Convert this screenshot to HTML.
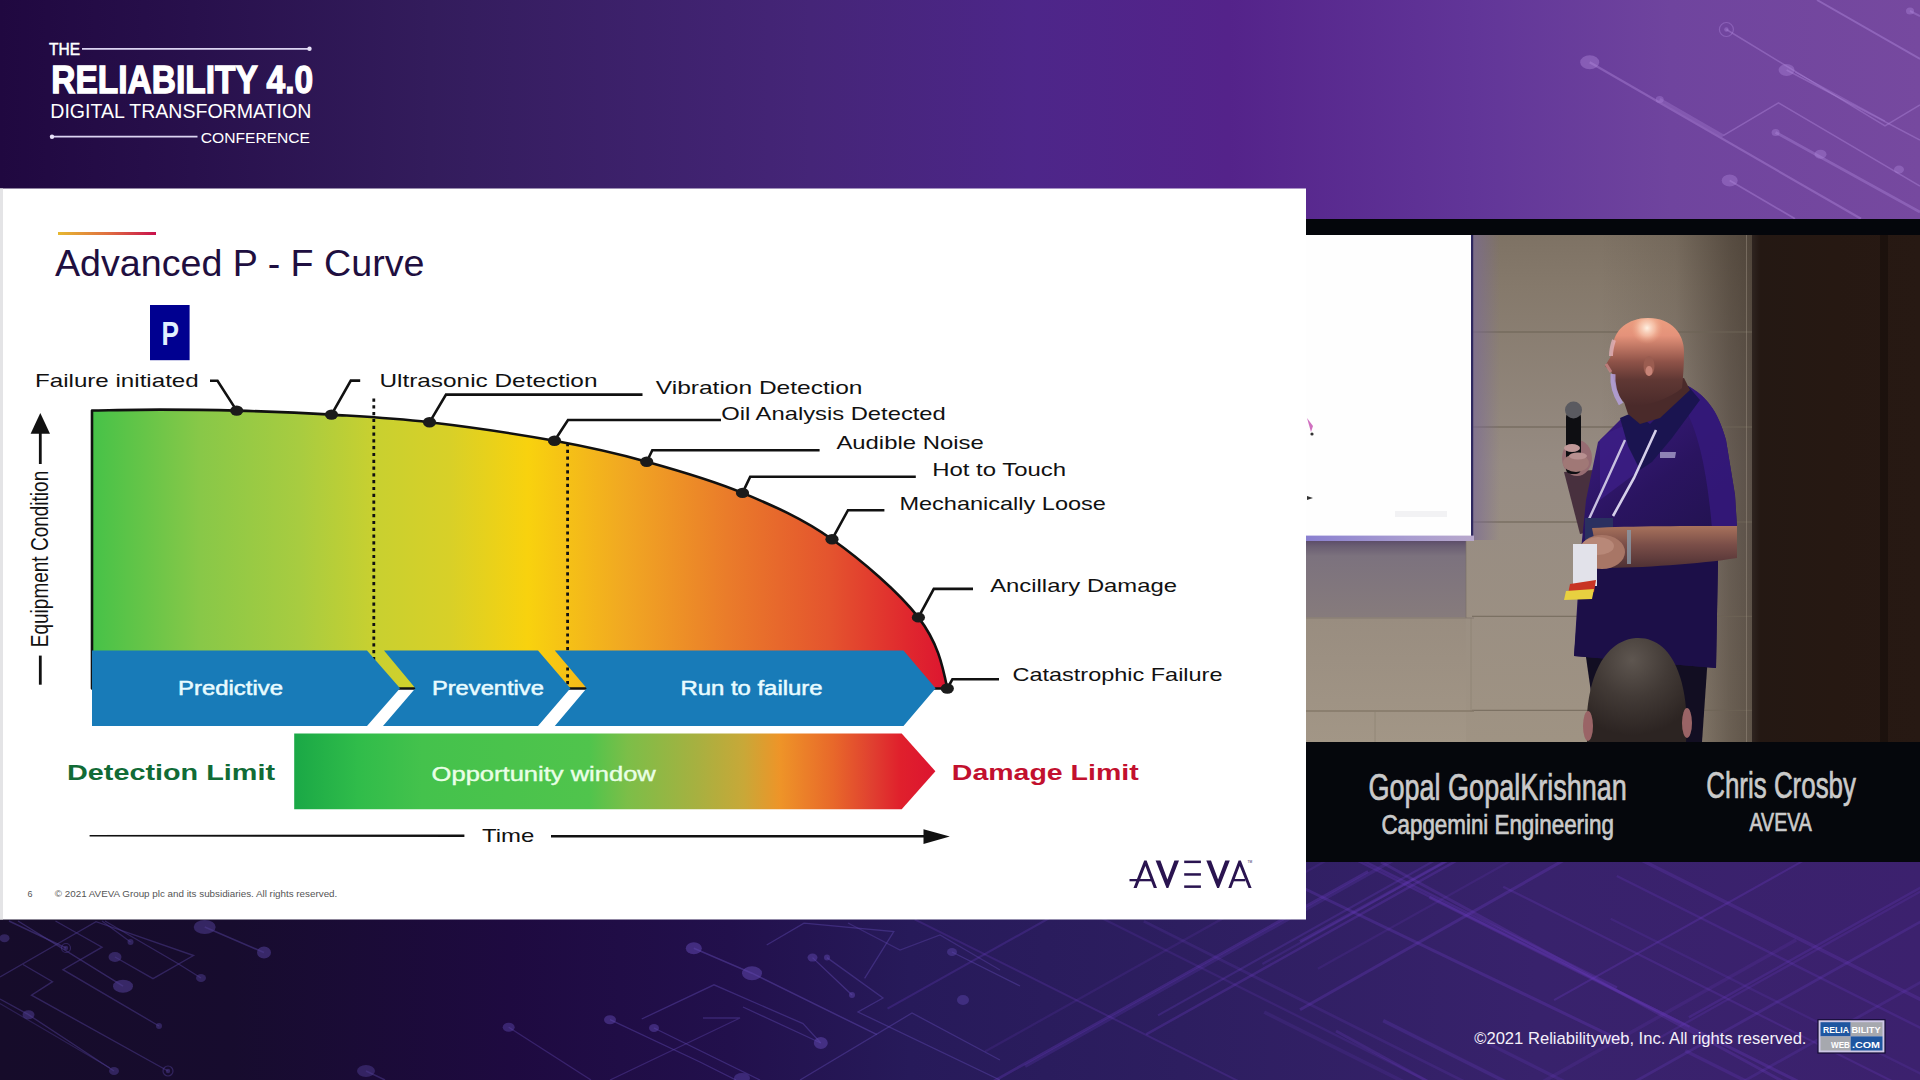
<!DOCTYPE html>
<html><head><meta charset="utf-8"><title>Advanced P-F Curve</title>
<style>
html,body{margin:0;padding:0;background:#1d0b3d;}
body{width:1920px;height:1080px;overflow:hidden;font-family:"Liberation Sans", sans-serif;}
svg{display:block;font-family:"Liberation Sans", sans-serif;}
</style></head>
<body>
<svg width="1920" height="1080" viewBox="0 0 1920 1080">
<defs>
<linearGradient id="bgTop" x1="0" y1="0" x2="1920" y2="0" gradientUnits="userSpaceOnUse">
  <stop offset="0" stop-color="#200840"/>
  <stop offset="0.1" stop-color="#28104c"/>
  <stop offset="0.224" stop-color="#331c5c"/>
  <stop offset="0.422" stop-color="#452578"/>
  <stop offset="0.536" stop-color="#4d2689"/>
  <stop offset="0.64" stop-color="#54238a"/>
  <stop offset="0.766" stop-color="#613598"/>
  <stop offset="0.87" stop-color="#6f449e"/>
  <stop offset="1" stop-color="#76499f"/>
</linearGradient>
<linearGradient id="bgBot" x1="0" y1="0" x2="1920" y2="0" gradientUnits="userSpaceOnUse">
  <stop offset="0" stop-color="#160c2a"/>
  <stop offset="0.12" stop-color="#170c2e"/>
  <stop offset="0.265" stop-color="#1e0a40"/>
  <stop offset="0.38" stop-color="#22104c"/>
  <stop offset="0.474" stop-color="#271a5a"/>
  <stop offset="0.615" stop-color="#2d1e60"/>
  <stop offset="0.8" stop-color="#38226c"/>
  <stop offset="1" stop-color="#3c216e"/>
</linearGradient>
<linearGradient id="curveG" x1="92" y1="0" x2="950" y2="0" gradientUnits="userSpaceOnUse">
  <stop offset="0" stop-color="#46c248"/>
  <stop offset="0.126" stop-color="#88c848"/>
  <stop offset="0.242" stop-color="#a8cc40"/>
  <stop offset="0.327" stop-color="#c8d030"/>
  <stop offset="0.417" stop-color="#d8d028"/>
  <stop offset="0.508" stop-color="#f8d20e"/>
  <stop offset="0.62" stop-color="#f1a822"/>
  <stop offset="0.74" stop-color="#ea7c2a"/>
  <stop offset="0.86" stop-color="#e4542e"/>
  <stop offset="0.95" stop-color="#e0282e"/>
  <stop offset="1" stop-color="#dc1430"/>
</linearGradient>
<linearGradient id="oppG" x1="294" y1="0" x2="936" y2="0" gradientUnits="userSpaceOnUse">
  <stop offset="0" stop-color="#1aa846"/>
  <stop offset="0.1" stop-color="#30bc4a"/>
  <stop offset="0.2" stop-color="#44c24c"/>
  <stop offset="0.46" stop-color="#50c44c"/>
  <stop offset="0.52" stop-color="#7cbe48"/>
  <stop offset="0.63" stop-color="#a8b040"/>
  <stop offset="0.70" stop-color="#c8a838"/>
  <stop offset="0.757" stop-color="#ee9428"/>
  <stop offset="0.84" stop-color="#e8682a"/>
  <stop offset="0.90" stop-color="#e04030"/>
  <stop offset="0.944" stop-color="#e0202c"/>
  <stop offset="1" stop-color="#dc1430"/>
</linearGradient>
<linearGradient id="titleBar" x1="58" y1="0" x2="156" y2="0" gradientUnits="userSpaceOnUse">
  <stop offset="0" stop-color="#e6b830"/>
  <stop offset="0.5" stop-color="#e07040"/>
  <stop offset="1" stop-color="#c8104c"/>
</linearGradient>
</defs>
<rect x="0" y="0" width="1920" height="540" fill="url(#bgTop)"/>
<rect x="0" y="540" width="1920" height="540" fill="url(#bgBot)"/>
<polyline points="1589.7,62.3 1861.0,218.8" fill="none" stroke="#b088dc" stroke-width="2.2" stroke-opacity="0.42" stroke-linejoin="miter"/>
<polyline points="1659.7,99.5 1723.0,136.0" fill="none" stroke="#b088dc" stroke-width="3.2" stroke-opacity="0.30" stroke-linejoin="miter"/>
<ellipse cx="1589.7" cy="62.3" rx="9.5" ry="7.0" fill="#b088dc" fill-opacity="0.42"/>
<ellipse cx="1659.7" cy="99.5" rx="4.0" ry="3.5" fill="#b088dc" fill-opacity="0.35"/>
<polyline points="1723.2,135.6 1778.5,102.8 1920.0,186.0" fill="none" stroke="#b088dc" stroke-width="1.5" stroke-opacity="0.42" stroke-linejoin="miter"/>
<circle cx="1726.4" cy="29.5" r="7.0" fill="none" stroke="#b088dc" stroke-opacity="0.40" stroke-width="1.2"/>
<ellipse cx="1726.4" cy="29.5" rx="2.2" ry="2.2" fill="#b088dc" fill-opacity="0.40"/>
<polyline points="1726.4,29.5 1885.0,125.8 1920.0,105.0" fill="none" stroke="#b088dc" stroke-width="1.5" stroke-opacity="0.42" stroke-linejoin="miter"/>
<ellipse cx="1786.6" cy="70.0" rx="8.0" ry="6.0" fill="#b088dc" fill-opacity="0.38"/>
<polyline points="1786.6,70.0 1920.0,140.0" fill="none" stroke="#b088dc" stroke-width="1.5" stroke-opacity="0.42" stroke-linejoin="miter"/>
<polyline points="1795.0,72.0 1885.0,121.0" fill="none" stroke="#b088dc" stroke-width="1.2" stroke-opacity="0.35" stroke-linejoin="miter"/>
<polyline points="1817.0,0.0 1920.0,59.0" fill="none" stroke="#b088dc" stroke-width="2.0" stroke-opacity="0.45" stroke-linejoin="miter"/>
<ellipse cx="1910.0" cy="11.0" rx="4.0" ry="3.5" fill="#b088dc" fill-opacity="0.40"/>
<polyline points="1910.0,11.0 1920.0,16.0" fill="none" stroke="#b088dc" stroke-width="2.0" stroke-opacity="0.40" stroke-linejoin="miter"/>
<ellipse cx="1775.6" cy="132.4" rx="4.0" ry="3.5" fill="#b088dc" fill-opacity="0.38"/>
<polyline points="1775.6,132.4 1920.0,212.0" fill="none" stroke="#b088dc" stroke-width="2.8" stroke-opacity="0.38" stroke-linejoin="miter"/>
<ellipse cx="1820.5" cy="154.2" rx="6.0" ry="4.5" fill="#b088dc" fill-opacity="0.38"/>
<ellipse cx="1899.0" cy="169.5" rx="5.0" ry="4.0" fill="#b088dc" fill-opacity="0.38"/>
<ellipse cx="1729.7" cy="180.5" rx="8.0" ry="6.0" fill="#b088dc" fill-opacity="0.38"/>
<polyline points="1729.7,180.5 1795.0,218.8" fill="none" stroke="#b088dc" stroke-width="1.8" stroke-opacity="0.42" stroke-linejoin="miter"/>
<polyline points="9.0,921.0 66.0,948.0" fill="none" stroke="#4e3c90" stroke-width="1.4" stroke-opacity="0.55" stroke-linejoin="miter"/>
<circle cx="66.0" cy="948.0" r="4.5" fill="none" stroke="#4e3c90" stroke-opacity="0.50" stroke-width="1.2"/>
<ellipse cx="66.0" cy="948.0" rx="2.2" ry="2.2" fill="#4e3c90" fill-opacity="0.50"/>
<polyline points="18.0,921.0 123.0,986.2" fill="none" stroke="#4e3c90" stroke-width="1.4" stroke-opacity="0.55" stroke-linejoin="miter"/>
<ellipse cx="123.0" cy="986.2" rx="10.0" ry="6.5" fill="#4e3c90" fill-opacity="0.60"/>
<polyline points="55.5,921.0 102.0,947.2 63.0,969.7 159.0,1026.0" fill="none" stroke="#4e3c90" stroke-width="1.4" stroke-opacity="0.50" stroke-linejoin="miter"/>
<ellipse cx="159.0" cy="1026.0" rx="3.0" ry="3.0" fill="#4e3c90" fill-opacity="0.50"/>
<polyline points="0.0,977.0 96.0,921.7 193.5,955.5 153.0,978.7 115.0,957.0" fill="none" stroke="#4e3c90" stroke-width="1.4" stroke-opacity="0.50" stroke-linejoin="miter"/>
<ellipse cx="115.0" cy="957.0" rx="6.5" ry="5.0" fill="#4e3c90" fill-opacity="0.55"/>
<polyline points="102.0,921.0 130.5,942.0" fill="none" stroke="#4e3c90" stroke-width="1.3" stroke-opacity="0.50" stroke-linejoin="miter"/>
<ellipse cx="130.5" cy="942.0" rx="3.0" ry="3.0" fill="#4e3c90" fill-opacity="0.50"/>
<polyline points="105.0,921.0 177.0,963.0 201.0,978.0" fill="none" stroke="#4e3c90" stroke-width="1.3" stroke-opacity="0.50" stroke-linejoin="miter"/>
<ellipse cx="201.0" cy="978.0" rx="5.0" ry="4.0" fill="#4e3c90" fill-opacity="0.50"/>
<polyline points="23.0,964.5 52.5,981.7 31.5,995.2 168.0,1071.0" fill="none" stroke="#4e3c90" stroke-width="1.4" stroke-opacity="0.50" stroke-linejoin="miter"/>
<circle cx="168.0" cy="1071.0" r="5.0" fill="none" stroke="#4e3c90" stroke-opacity="0.50" stroke-width="1.2"/>
<ellipse cx="168.0" cy="1071.0" rx="2.2" ry="2.2" fill="#4e3c90" fill-opacity="0.50"/>
<polyline points="0.0,999.0 28.5,1014.7 114.0,1071.0" fill="none" stroke="#4e3c90" stroke-width="1.4" stroke-opacity="0.50" stroke-linejoin="miter"/>
<ellipse cx="28.5" cy="1014.7" rx="6.0" ry="4.5" fill="#4e3c90" fill-opacity="0.55"/>
<ellipse cx="114.0" cy="1071.0" rx="5.0" ry="4.0" fill="#4e3c90" fill-opacity="0.50"/>
<polyline points="0.0,1003.5 110.0,1068.0" fill="none" stroke="#4e3c90" stroke-width="1.2" stroke-opacity="0.40" stroke-linejoin="miter"/>
<ellipse cx="4.5" cy="938.2" rx="5.0" ry="4.0" fill="#4e3c90" fill-opacity="0.50"/>
<ellipse cx="204.7" cy="927.0" rx="11.0" ry="7.0" fill="#4e3c90" fill-opacity="0.55"/>
<polyline points="204.7,927.0 264.0,952.5" fill="none" stroke="#4e3c90" stroke-width="1.6" stroke-opacity="0.55" stroke-linejoin="miter"/>
<ellipse cx="264.0" cy="952.5" rx="7.0" ry="6.0" fill="#4e3c90" fill-opacity="0.60"/>
<ellipse cx="366.0" cy="1071.0" rx="9.0" ry="6.0" fill="#4e3c90" fill-opacity="0.50"/>
<polyline points="366.0,1071.0 385.0,1080.0" fill="none" stroke="#4e3c90" stroke-width="1.5" stroke-opacity="0.50" stroke-linejoin="miter"/>
<ellipse cx="693.8" cy="948.2" rx="8.0" ry="6.0" fill="#5e46ac" fill-opacity="0.55"/>
<polyline points="693.8,948.2 752.0,973.2 877.0,1034.7" fill="none" stroke="#5e46ac" stroke-width="1.5" stroke-opacity="0.50" stroke-linejoin="miter"/>
<ellipse cx="752.0" cy="973.2" rx="10.0" ry="7.0" fill="#5e46ac" fill-opacity="0.55"/>
<ellipse cx="812.5" cy="957.6" rx="5.0" ry="4.0" fill="#5e46ac" fill-opacity="0.50"/>
<ellipse cx="827.0" cy="957.6" rx="3.0" ry="3.0" fill="#5e46ac" fill-opacity="0.50"/>
<polyline points="812.5,957.6 852.0,995.0" fill="none" stroke="#5e46ac" stroke-width="1.3" stroke-opacity="0.50" stroke-linejoin="miter"/>
<ellipse cx="852.0" cy="995.0" rx="3.0" ry="3.0" fill="#5e46ac" fill-opacity="0.50"/>
<polyline points="827.0,957.6 883.0,998.0 858.0,1012.0 1000.0,1080.0" fill="none" stroke="#5e46ac" stroke-width="1.3" stroke-opacity="0.45" stroke-linejoin="miter"/>
<polyline points="766.7,945.0 804.0,923.2 893.8,931.5 864.6,978.4" fill="none" stroke="#5e46ac" stroke-width="1.3" stroke-opacity="0.45" stroke-linejoin="miter"/>
<polyline points="641.7,1019.0 714.0,984.8 803.0,1023.6 820.8,1043.0" fill="none" stroke="#5e46ac" stroke-width="1.3" stroke-opacity="0.45" stroke-linejoin="miter"/>
<ellipse cx="610.0" cy="1019.7" rx="6.0" ry="4.5" fill="#5e46ac" fill-opacity="0.50"/>
<polyline points="610.0,1019.7 700.0,1062.0 736.0,1080.0" fill="none" stroke="#5e46ac" stroke-width="1.3" stroke-opacity="0.45" stroke-linejoin="miter"/>
<ellipse cx="654.0" cy="1028.0" rx="5.0" ry="4.0" fill="#5e46ac" fill-opacity="0.50"/>
<polyline points="654.0,1028.0 760.0,1080.0" fill="none" stroke="#5e46ac" stroke-width="1.3" stroke-opacity="0.45" stroke-linejoin="miter"/>
<ellipse cx="820.8" cy="1043.0" rx="7.0" ry="6.0" fill="#5e46ac" fill-opacity="0.55"/>
<polyline points="743.0,1007.0 820.8,1043.0" fill="none" stroke="#5e46ac" stroke-width="1.3" stroke-opacity="0.45" stroke-linejoin="miter"/>
<polyline points="703.0,1018.0 740.0,1018.0 610.0,1080.0" fill="none" stroke="#5e46ac" stroke-width="1.3" stroke-opacity="0.40" stroke-linejoin="miter"/>
<polyline points="800.0,1080.0 912.0,1013.0 1000.0,1060.0" fill="none" stroke="#5e46ac" stroke-width="1.3" stroke-opacity="0.45" stroke-linejoin="miter"/>
<ellipse cx="508.7" cy="1027.3" rx="6.0" ry="4.5" fill="#5e46ac" fill-opacity="0.45"/>
<polyline points="508.7,1027.3 591.0,1080.0" fill="none" stroke="#5e46ac" stroke-width="1.3" stroke-opacity="0.40" stroke-linejoin="miter"/>
<ellipse cx="742.0" cy="1078.0" rx="8.0" ry="5.0" fill="#5e46ac" fill-opacity="0.45"/>
<polyline points="848.0,923.0 900.0,950.0 940.0,935.0 1000.0,970.0" fill="none" stroke="#5e46ac" stroke-width="1.3" stroke-opacity="0.40" stroke-linejoin="miter"/>
<ellipse cx="952.0" cy="952.0" rx="5.0" ry="4.0" fill="#5e46ac" fill-opacity="0.45"/>
<polyline points="952.0,952.0 1020.0,986.0" fill="none" stroke="#5e46ac" stroke-width="1.3" stroke-opacity="0.45" stroke-linejoin="miter"/>
<ellipse cx="963.0" cy="1000.0" rx="6.0" ry="5.0" fill="#5e46ac" fill-opacity="0.45"/>
<polyline points="1383.2,1020.6 1991.1,1324.5" fill="none" stroke="#6a3cc0" stroke-width="3.5" stroke-opacity="0.26" stroke-linejoin="miter"/>
<polyline points="1634.8,856.7 2094.3,1086.4" fill="none" stroke="#6a3cc0" stroke-width="3.5" stroke-opacity="0.25" stroke-linejoin="miter"/>
<polyline points="1616.8,876.0 2077.8,1106.6" fill="none" stroke="#6a3cc0" stroke-width="2.4" stroke-opacity="0.24" stroke-linejoin="miter"/>
<polyline points="1342.1,853.0 1689.6,1026.8" fill="none" stroke="#6a3cc0" stroke-width="2.4" stroke-opacity="0.29" stroke-linejoin="miter"/>
<polyline points="1503.2,886.7 2111.9,1191.1" fill="none" stroke="#6a3cc0" stroke-width="2.2" stroke-opacity="0.25" stroke-linejoin="miter"/>
<polyline points="966.4,850.4 1608.6,1171.5" fill="none" stroke="#6a3cc0" stroke-width="2.3" stroke-opacity="0.19" stroke-linejoin="miter"/>
<polyline points="1685.2,1050.7 2065.4,1240.7" fill="none" stroke="#6a3cc0" stroke-width="3.5" stroke-opacity="0.24" stroke-linejoin="miter"/>
<polyline points="1429.4,897.1 2102.8,1233.8" fill="none" stroke="#6a3cc0" stroke-width="3.1" stroke-opacity="0.30" stroke-linejoin="miter"/>
<polyline points="1610.7,918.7 2023.3,1125.0" fill="none" stroke="#6a3cc0" stroke-width="2.3" stroke-opacity="0.18" stroke-linejoin="miter"/>
<polyline points="914.7,919.3 1436.1,1180.0" fill="none" stroke="#6a3cc0" stroke-width="2.0" stroke-opacity="0.25" stroke-linejoin="miter"/>
<polyline points="1143.8,921.3 1762.2,1230.5" fill="none" stroke="#6a3cc0" stroke-width="2.8" stroke-opacity="0.20" stroke-linejoin="miter"/>
<polyline points="1264.2,1012.1 1539.9,1149.9" fill="none" stroke="#6a3cc0" stroke-width="3.6" stroke-opacity="0.16" stroke-linejoin="miter"/>
<polyline points="1489.8,1044.3 1748.0,1173.4" fill="none" stroke="#6a3cc0" stroke-width="3.3" stroke-opacity="0.21" stroke-linejoin="miter"/>
<polyline points="1346.0,852.1 1617.0,987.6" fill="none" stroke="#6a3cc0" stroke-width="2.3" stroke-opacity="0.29" stroke-linejoin="miter"/>
<polyline points="1025.1,1066.3 1693.4,692.0" fill="none" stroke="#6a3cc0" stroke-width="3.5" stroke-opacity="0.21" stroke-linejoin="miter"/>
<polyline points="1158.0,1015.4 1757.0,680.0" fill="none" stroke="#6a3cc0" stroke-width="2.2" stroke-opacity="0.26" stroke-linejoin="miter"/>
<polyline points="1529.7,1089.1 1796.2,939.9" fill="none" stroke="#6a3cc0" stroke-width="3.5" stroke-opacity="0.17" stroke-linejoin="miter"/>
<polyline points="1146.2,1034.4 1809.4,663.0" fill="none" stroke="#6a3cc0" stroke-width="2.5" stroke-opacity="0.29" stroke-linejoin="miter"/>
<polyline points="1317.9,968.7 1710.5,748.9" fill="none" stroke="#6a3cc0" stroke-width="2.3" stroke-opacity="0.17" stroke-linejoin="miter"/>
<polyline points="985.0,1051.6 1683.6,660.4" fill="none" stroke="#6a3cc0" stroke-width="2.3" stroke-opacity="0.17" stroke-linejoin="miter"/>
<polyline points="1688.8,1017.4 2121.5,775.1" fill="none" stroke="#6a3cc0" stroke-width="2.4" stroke-opacity="0.24" stroke-linejoin="miter"/>
<polyline points="1554.1,1000.2 1993.9,754.0" fill="none" stroke="#6a3cc0" stroke-width="2.1" stroke-opacity="0.29" stroke-linejoin="miter"/>
<polyline points="887.5,1008.6 1514.8,657.3" fill="none" stroke="#6a3cc0" stroke-width="2.2" stroke-opacity="0.26" stroke-linejoin="miter"/>
<polyline points="1657.8,1038.7 2262.4,700.1" fill="none" stroke="#6a3cc0" stroke-width="2.2" stroke-opacity="0.22" stroke-linejoin="miter"/>
<polyline points="985.4,1085.8 1368.0,871.5" fill="none" stroke="#6a3cc0" stroke-width="2.7" stroke-opacity="0.30" stroke-linejoin="miter"/>
<polyline points="1575.9,1114.7 2030.0,860.4" fill="none" stroke="#6a3cc0" stroke-width="2.8" stroke-opacity="0.26" stroke-linejoin="miter"/>
<polyline points="1262.4,964.0 1694.1,722.3" fill="none" stroke="#6a3cc0" stroke-width="2.2" stroke-opacity="0.21" stroke-linejoin="miter"/>
<polyline points="1690.2,1111.2 2222.4,813.2" fill="none" stroke="#6a3cc0" stroke-width="2.8" stroke-opacity="0.21" stroke-linejoin="miter"/>
<polyline points="1300.0,941.5 1620.0,765.5" fill="none" stroke="#6a3cc0" stroke-width="3.0" stroke-opacity="0.30" stroke-linejoin="miter"/>
<polyline points="1300.0,1009.8 1620.0,828.4" fill="none" stroke="#6a3cc0" stroke-width="3.0" stroke-opacity="0.30" stroke-linejoin="miter"/>
<polyline points="1300.0,886.5 1620.0,1040.1" fill="none" stroke="#6a3cc0" stroke-width="3.0" stroke-opacity="0.30" stroke-linejoin="miter"/>
<polyline points="1381.0,862.0 1920.0,1156.3" fill="none" stroke="#6a3cc0" stroke-width="3.0" stroke-opacity="0.28" stroke-linejoin="miter"/>
<polyline points="1336.0,1031.0 1450.0,1093.7" fill="none" stroke="#6a3cc0" stroke-width="3.0" stroke-opacity="0.25" stroke-linejoin="miter"/>
<rect x="0" y="188.5" width="1306" height="731" fill="#ffffff"/>
<rect x="0" y="188.5" width="3" height="731" fill="#e4e4e6"/>
<rect x="58" y="232" width="98" height="3" fill="url(#titleBar)"/>
<text x="55.0" y="276.3" font-size="37.0" fill="#1f0f40" font-weight="normal" textLength="369.4" lengthAdjust="spacingAndGlyphs" >Advanced P - F Curve</text>
<rect x="150" y="305" width="39.6" height="55.2" fill="#000090"/>
<text x="161.5" y="344.6" font-size="33.0" fill="#e2f1ff" font-weight="bold" textLength="17.5" lengthAdjust="spacingAndGlyphs" >P</text>
<path d="M92,688.5 L92,410.5 C103.3,410.4 135.9,409.6 160.0,409.6 C184.1,409.6 208.1,409.8 236.7,410.6 C265.3,411.4 299.4,412.7 331.5,414.6 C363.6,416.6 392.3,417.9 429.5,422.3 C466.7,426.7 518.3,434.2 554.5,440.8 C590.7,447.4 615.4,453.0 646.7,461.7 C678.0,470.4 711.6,480.0 742.5,492.9 C773.4,505.8 802.7,518.5 832.0,539.3 C861.3,560.0 899.2,592.5 918.4,617.4 C937.6,642.3 942.5,664.8 947.3,688.5 Z" fill="url(#curveG)" stroke="#111" stroke-width="2.6" stroke-linejoin="round"/>
<line x1="373.8" y1="398.5" x2="373.8" y2="688" stroke="#111" stroke-width="2.8" stroke-dasharray="3.2,3.6"/>
<line x1="567.6" y1="443" x2="567.6" y2="688" stroke="#111" stroke-width="2.8" stroke-dasharray="3.2,3.6"/>
<polygon points="92,650.5 367,650.5 400,688.3 367,726 92,726" fill="#187bb8"/>
<polygon points="384,650.5 538,650.5 570.4,688.3 538,726 383,726 415.4,688.3" fill="#187bb8"/>
<polygon points="554.8,650.5 903.5,650.5 935.6,688.3 903.5,726 554.8,726 586.7,688.3" fill="#187bb8"/>
<polyline points="236.7,410.6 217.5,380.8 210.0,380.8" fill="none" stroke="#111" stroke-width="2.6" stroke-linejoin="miter"/>
<polyline points="331.5,414.6 350.8,380.6 360.2,380.6" fill="none" stroke="#111" stroke-width="2.6" stroke-linejoin="miter"/>
<polyline points="429.5,422.3 446.0,394.6 642.5,394.6" fill="none" stroke="#111" stroke-width="2.6" stroke-linejoin="miter"/>
<polyline points="554.5,440.8 568.0,420.0 721.0,420.0" fill="none" stroke="#111" stroke-width="2.6" stroke-linejoin="miter"/>
<polyline points="646.7,461.7 652.3,450.2 819.6,450.2" fill="none" stroke="#111" stroke-width="2.6" stroke-linejoin="miter"/>
<polyline points="742.5,492.9 750.2,476.7 915.8,476.7" fill="none" stroke="#111" stroke-width="2.6" stroke-linejoin="miter"/>
<polyline points="832.0,539.3 848.0,510.2 884.4,510.2" fill="none" stroke="#111" stroke-width="2.6" stroke-linejoin="miter"/>
<polyline points="918.4,617.4 933.8,588.9 973.0,588.9" fill="none" stroke="#111" stroke-width="2.6" stroke-linejoin="miter"/>
<polyline points="947.3,688.5 952.4,679.3 999.0,679.3" fill="none" stroke="#111" stroke-width="2.6" stroke-linejoin="miter"/>
<ellipse cx="236.7" cy="410.6" rx="6.6" ry="5.2" fill="#1b1b1b"/>
<ellipse cx="331.5" cy="414.6" rx="6.6" ry="5.2" fill="#1b1b1b"/>
<ellipse cx="429.5" cy="422.3" rx="6.6" ry="5.2" fill="#1b1b1b"/>
<ellipse cx="554.5" cy="440.8" rx="6.6" ry="5.2" fill="#1b1b1b"/>
<ellipse cx="646.7" cy="461.7" rx="6.6" ry="5.2" fill="#1b1b1b"/>
<ellipse cx="742.5" cy="492.9" rx="6.6" ry="5.2" fill="#1b1b1b"/>
<ellipse cx="832.0" cy="539.3" rx="6.6" ry="5.2" fill="#1b1b1b"/>
<ellipse cx="918.4" cy="617.4" rx="6.6" ry="5.2" fill="#1b1b1b"/>
<ellipse cx="947.3" cy="688.5" rx="6.6" ry="5.2" fill="#1b1b1b"/>
<text x="35.0" y="386.6" font-size="18.6" fill="#111111" font-weight="normal" textLength="163.7" lengthAdjust="spacingAndGlyphs" >Failure initiated</text>
<text x="379.4" y="386.6" font-size="18.6" fill="#111111" font-weight="normal" textLength="218.1" lengthAdjust="spacingAndGlyphs" >Ultrasonic Detection</text>
<text x="655.8" y="394.2" font-size="18.6" fill="#111111" font-weight="normal" textLength="206.7" lengthAdjust="spacingAndGlyphs" >Vibration Detection</text>
<text x="721.3" y="420.3" font-size="18.6" fill="#111111" font-weight="normal" textLength="224.5" lengthAdjust="spacingAndGlyphs" >Oil Analysis Detected</text>
<text x="836.4" y="448.8" font-size="18.6" fill="#111111" font-weight="normal" textLength="147.3" lengthAdjust="spacingAndGlyphs" >Audible Noise</text>
<text x="932.2" y="475.8" font-size="18.6" fill="#111111" font-weight="normal" textLength="133.9" lengthAdjust="spacingAndGlyphs" >Hot to Touch</text>
<text x="899.4" y="509.7" font-size="18.6" fill="#111111" font-weight="normal" textLength="206.5" lengthAdjust="spacingAndGlyphs" >Mechanically Loose</text>
<text x="990.2" y="591.8" font-size="18.6" fill="#111111" font-weight="normal" textLength="186.8" lengthAdjust="spacingAndGlyphs" >Ancillary Damage</text>
<text x="1012.5" y="680.8" font-size="18.6" fill="#111111" font-weight="normal" textLength="210.0" lengthAdjust="spacingAndGlyphs" >Catastrophic Failure</text>
<text x="178.0" y="694.6" font-size="20.0" fill="#e8fbff" font-weight="normal" textLength="105.0" lengthAdjust="spacingAndGlyphs" stroke="#e8fbff" stroke-width="0.5">Predictive</text>
<text x="431.9" y="694.6" font-size="20.0" fill="#e8fbff" font-weight="normal" textLength="112.0" lengthAdjust="spacingAndGlyphs" stroke="#e8fbff" stroke-width="0.5">Preventive</text>
<text x="680.4" y="694.6" font-size="20.0" fill="#e8fbff" font-weight="normal" textLength="142.2" lengthAdjust="spacingAndGlyphs" stroke="#e8fbff" stroke-width="0.5">Run to failure</text>
<polygon points="294.2,733.5 901.7,733.5 935.4,771.3 901.7,809.2 294.2,809.2" fill="url(#oppG)"/>
<text x="431.6" y="780.8" font-size="20.0" fill="#e9ffe6" font-weight="normal" textLength="224.2" lengthAdjust="spacingAndGlyphs" stroke="#e9ffe6" stroke-width="0.4">Opportunity window</text>
<text x="67.0" y="780.0" font-size="22.2" fill="#116b36" font-weight="bold" textLength="208.0" lengthAdjust="spacingAndGlyphs" >Detection Limit</text>
<text x="951.8" y="780.0" font-size="22.2" fill="#c2102e" font-weight="bold" textLength="186.9" lengthAdjust="spacingAndGlyphs" >Damage Limit</text>
<path d="M89.6,835 L464.4,834.6 L464.4,837 L89.6,836.4 Z" fill="#111"/>
<line x1="551" y1="836.2" x2="926" y2="836.2" stroke="#111" stroke-width="2.4"/>
<polygon points="923.5,829.3 949.8,836.6 923.5,843.9" fill="#111"/>
<text x="482.0" y="842.0" font-size="18.6" fill="#111111" font-weight="normal" textLength="52.3" lengthAdjust="spacingAndGlyphs" >Time</text>
<polygon points="40.3,413 50,433.8 30.6,433.8" fill="#111"/>
<line x1="40.3" y1="433" x2="40.3" y2="464" stroke="#111" stroke-width="2.8"/>
<line x1="40.3" y1="655.6" x2="40.3" y2="684.7" stroke="#111" stroke-width="2.8"/>
<text transform="translate(48.4,647.2) rotate(-90)" x="0" y="0" font-size="23" fill="#111" textLength="176.4" lengthAdjust="spacingAndGlyphs">Equipment Condition</text>
<text x="27.4" y="896.8" font-size="9.5" fill="#555" font-weight="normal" textLength="5.0" lengthAdjust="spacingAndGlyphs" >6</text>
<text x="54.8" y="896.8" font-size="9.5" fill="#555" font-weight="normal" textLength="282.5" lengthAdjust="spacingAndGlyphs" >© 2021 AVEVA Group plc and its subsidiaries. All rights reserved.</text>
<polygon points="1133.5,887.9 1144.2,860.6 1146.6,860.6 1157.0,887.9 1153.8,887.9 1145.4,866.0 1136.7,887.9" fill="#2a1450"/>
<rect x="1129.5" y="879.0" width="22.6" height="2.3" fill="#2a1450"/>
<polygon points="1155.6,860.6 1160.4,860.6 1167.4,879.4 1174.4,860.6 1179.0,860.6 1168.3,887.9 1166.5,887.9" fill="#2a1450"/>
<rect x="1184.2" y="860.6" width="16.7" height="2.5" fill="#2a1450"/>
<rect x="1184.2" y="873.2" width="16.7" height="2.5" fill="#2a1450"/>
<rect x="1184.2" y="885.4" width="16.7" height="2.5" fill="#2a1450"/>
<polygon points="1206.3,860.6 1211.0,860.6 1218.1,879.4 1225.2,860.6 1229.8,860.6 1219.0,887.9 1217.2,887.9" fill="#2a1450"/>
<polygon points="1228.3,887.9 1238.6,860.6 1240.8,860.6 1251.6,887.9 1248.6,887.9 1239.7,866.0 1231.3,887.9" fill="#2a1450"/>
<rect x="1233.7" y="879.0" width="11.7" height="2.3" fill="#2a1450"/>
<text x="1247.5" y="862.5" font-size="3.2" fill="#2a1450">TM</text>
<rect x="1306" y="219" width="614" height="643" fill="#04060b"/>
<defs><linearGradient id="wallG" x1="0" y1="235" x2="0" y2="742" gradientUnits="userSpaceOnUse"><stop offset="0" stop-color="#7e7264"/><stop offset="0.1" stop-color="#85796b"/><stop offset="0.45" stop-color="#968b82"/><stop offset="1" stop-color="#9f9383"/></linearGradient><linearGradient id="wallShade" x1="1600" y1="0" x2="1752" y2="0" gradientUnits="userSpaceOnUse"><stop offset="0" stop-color="#2a2018" stop-opacity="0"/><stop offset="0.5" stop-color="#2a2018" stop-opacity="0.12"/><stop offset="0.85" stop-color="#2a2018" stop-opacity="0.45"/><stop offset="1" stop-color="#2a2018" stop-opacity="0.55"/></linearGradient><linearGradient id="belowG" x1="0" y1="540" x2="0" y2="742" gradientUnits="userSpaceOnUse"><stop offset="0" stop-color="#5a4a68"/><stop offset="0.03" stop-color="#6a5e72"/><stop offset="0.08" stop-color="#7c727e"/><stop offset="0.38" stop-color="#867b7c"/><stop offset="0.385" stop-color="#998d80"/><stop offset="1" stop-color="#a29686"/></linearGradient><linearGradient id="doorG" x1="1752" y1="0" x2="1920" y2="0" gradientUnits="userSpaceOnUse"><stop offset="0" stop-color="#2e2420"/><stop offset="0.05" stop-color="#241813"/><stop offset="0.5" stop-color="#261812"/><stop offset="1" stop-color="#271913"/></linearGradient><radialGradient id="headG" cx="1648" cy="327" r="66" gradientUnits="userSpaceOnUse"><stop offset="0" stop-color="#fff0e2"/><stop offset="0.1" stop-color="#fbc4a4"/><stop offset="0.24" stop-color="#e09880"/><stop offset="0.4" stop-color="#a87264"/><stop offset="0.6" stop-color="#74463e"/><stop offset="0.85" stop-color="#4e2e2a"/><stop offset="1" stop-color="#442826"/></radialGradient><radialGradient id="hairG" cx="1632" cy="660" r="75" gradientUnits="userSpaceOnUse"><stop offset="0" stop-color="#5e5650"/><stop offset="0.5" stop-color="#423a36"/><stop offset="1" stop-color="#2c2422"/></radialGradient><linearGradient id="shirtG" x1="1600" y1="400" x2="1720" y2="560" gradientUnits="userSpaceOnUse"><stop offset="0" stop-color="#3c1c82"/><stop offset="0.5" stop-color="#2a1460"/><stop offset="1" stop-color="#20124c"/></linearGradient><linearGradient id="armG" x1="0" y1="526" x2="0" y2="568" gradientUnits="userSpaceOnUse"><stop offset="0" stop-color="#a8725c"/><stop offset="0.45" stop-color="#7a4e48"/><stop offset="1" stop-color="#4e3034"/></linearGradient></defs>
<rect x="1306" y="235" width="446" height="507" fill="url(#wallG)"/>
<rect x="1306" y="235" width="446" height="507" fill="url(#wallShade)"/>
<line x1="1472" y1="332.0" x2="1752" y2="332.0" stroke="#6e6456" stroke-width="1.3" stroke-opacity="0.7"/>
<line x1="1472" y1="427.0" x2="1752" y2="427.0" stroke="#6e6456" stroke-width="1.3" stroke-opacity="0.7"/>
<line x1="1472" y1="522.0" x2="1752" y2="522.0" stroke="#6e6456" stroke-width="1.3" stroke-opacity="0.7"/>
<line x1="1472" y1="616.3" x2="1752" y2="616.3" stroke="#6e6456" stroke-width="1.3" stroke-opacity="0.7"/>
<line x1="1472" y1="710.4" x2="1752" y2="710.4" stroke="#6e6456" stroke-width="1.3" stroke-opacity="0.7"/>
<line x1="1746.5" y1="235" x2="1746.5" y2="742" stroke="#9a8e80" stroke-width="1" stroke-opacity="0.5"/>
<rect x="1306" y="540" width="160" height="202" fill="url(#belowG)"/>
<line x1="1466" y1="540" x2="1466" y2="618" stroke="#7a6e66" stroke-width="1" stroke-opacity="0.6"/>
<line x1="1471" y1="618" x2="1471" y2="712" stroke="#8a7e70" stroke-width="1" stroke-opacity="0.6"/>
<line x1="1375" y1="712" x2="1375" y2="742" stroke="#8a7e70" stroke-width="1" stroke-opacity="0.6"/>
<line x1="1306" y1="618" x2="1474" y2="618" stroke="#7a7068" stroke-width="1.2" stroke-opacity="0.6"/>
<line x1="1306" y1="711" x2="1474" y2="711" stroke="#857868" stroke-width="1.5"/>
<defs><linearGradient id="edgeG" x1="1472" y1="0" x2="1500" y2="0" gradientUnits="userSpaceOnUse"><stop offset="0" stop-color="#7a6a96" stop-opacity="0.7"/><stop offset="1" stop-color="#7a6a96" stop-opacity="0"/></linearGradient></defs>
<rect x="1472" y="235" width="28" height="305" fill="url(#edgeG)"/>
<rect x="1306" y="235" width="166" height="304" fill="#fefefe"/>
<rect x="1471" y="235" width="2.2" height="301" fill="#2e2860"/>
<defs><linearGradient id="bezG" x1="1306" y1="0" x2="1474" y2="0" gradientUnits="userSpaceOnUse"><stop offset="0" stop-color="#8a80d0"/><stop offset="0.6" stop-color="#a89cd0"/><stop offset="1" stop-color="#b8a8cc"/></linearGradient></defs>
<rect x="1306" y="535.6" width="168" height="5.4" fill="url(#bezG)"/>
<path d="M1307,418 L1311,432 L1313,426 Z" fill="#d070c0"/>
<circle cx="1312" cy="434" r="1.6" fill="#333"/>
<path d="M1307,496 L1313,498 L1307,500 Z" fill="#333"/>
<rect x="1395" y="511" width="52" height="6" fill="#f2f2f4"/>
<rect x="1752" y="235" width="168" height="507" fill="url(#doorG)"/>
<rect x="1880" y="235" width="8" height="507" fill="#1a100c" opacity="0.8"/>
<polygon points="1585,650 1708,655 1702,742 1598,742" fill="#120e22"/>
<path d="M1564,472 L1594,470 L1600,530 L1580,534 Z" fill="#48303e"/>
<path d="M1622,418 L1598,442 L1586,500 L1580,560 L1574,656 L1716,668 L1718,560 L1737,527 L1735,495 L1726,440 C1718,410 1705,395 1688,386 L1662,402 Z" fill="url(#shirtG)"/>
<path d="M1688,386 C1705,395 1718,410 1726,440 L1735,495 L1737,527 L1712,529 C1708,480 1700,430 1680,400 Z" fill="#34187a" opacity="0.9"/>
<path d="M1600,440 C1612,428 1630,420 1650,430 L1640,470 L1600,500 Z" fill="#3c1e86" opacity="0.8"/>
<path d="M1582,560 L1718,560 L1716,668 L1574,656 Z" fill="#1c0f48"/>
<path d="M1620,418 L1634,412 L1650,424 L1688,386 L1700,400 L1672,438 L1652,462 L1640,470 L1628,446 Z" fill="#1a1450"/>
<path d="M1656,430 L1634,478 L1613,516" stroke="#d6d0ea" stroke-width="2.6" fill="none"/>
<path d="M1625,440 L1606,482 L1589,519" stroke="#c8c0e0" stroke-width="2.4" fill="none"/>
<rect x="1585" y="518" width="28" height="26" fill="#2a3060"/>
<path d="M1660,452 L1676,452 L1675,458 L1660,458 Z" fill="#b8b0d8" opacity="0.7"/>
<path d="M1592,528 C1630,526 1690,526 1737,526 L1737,558 C1700,564 1640,568 1600,568 Z" fill="url(#armG)"/>
<rect x="1627" y="530" width="4" height="34" fill="#8a98a8" opacity="0.8"/>
<ellipse cx="1602" cy="552" rx="23" ry="17" fill="#a87666"/>
<ellipse cx="1598" cy="546" rx="16" ry="9" fill="#b88878"/>
<ellipse cx="1577" cy="458" rx="15" ry="18" fill="#966c72"/>
<rect x="1566" y="412" width="15" height="62" rx="5" fill="#0e0e12"/>
<ellipse cx="1573.5" cy="410" rx="8.5" ry="8.5" fill="#5a5a60"/>
<ellipse cx="1576" cy="463" rx="13" ry="9" fill="#a07876"/>
<ellipse cx="1572" cy="448" rx="8" ry="4" fill="#c09898"/>
<ellipse cx="1578" cy="456" rx="9" ry="3.5" fill="#b89090"/>
<rect x="1573" y="544" width="24" height="42" fill="#e2e2ea"/>
<polygon points="1570,584 1596,580 1594,592 1568,594" fill="#c83424"/>
<polygon points="1566,591 1594,589 1592,599 1564,600" fill="#e8d040"/>
<path d="M1622,396 L1640,385 L1684,378 L1690,390 L1660,418 L1640,424 L1628,414 Z" fill="#4a2a2a"/>
<defs><linearGradient id="headL" x1="0" y1="318" x2="0" y2="406" gradientUnits="userSpaceOnUse"><stop offset="0" stop-color="#ec9e80"/><stop offset="0.2" stop-color="#e4927a"/><stop offset="0.34" stop-color="#bc7462"/><stop offset="0.5" stop-color="#8e5248"/><stop offset="0.7" stop-color="#603834"/><stop offset="1" stop-color="#4a2a2a"/></linearGradient><radialGradient id="headH" cx="1647" cy="328" r="16" gradientUnits="userSpaceOnUse"><stop offset="0" stop-color="#fff2e4" stop-opacity="1"/><stop offset="0.5" stop-color="#fcd4bc" stop-opacity="0.6"/><stop offset="1" stop-color="#f0a888" stop-opacity="0"/></radialGradient><clipPath id="headClip"><path id="headPath" d="M1613,346 C1614,330 1628,318 1648,318 C1672,318 1684,334 1684,352 C1684,366 1683,378 1682,388 C1670,398 1650,406 1630,406 C1622,402 1618,396 1616,388 L1612,373 L1605,366 L1611,356 Z"/></clipPath></defs>
<path d="M1613,346 C1614,330 1628,318 1648,318 C1672,318 1684,334 1684,352 C1684,366 1683,378 1682,388 C1670,398 1650,406 1630,406 C1622,402 1618,396 1616,388 L1612,373 L1605,366 L1611,356 Z" fill="url(#headL)"/>
<rect x="1600" y="310" width="90" height="40" fill="url(#headH)" clip-path="url(#headClip)"/>
<ellipse cx="1649" cy="366" rx="5.5" ry="10" fill="#9a5c50"/>
<ellipse cx="1649" cy="371" rx="3.5" ry="5" fill="#c88478"/>
<path d="M1614,340 C1612,346 1611,352 1611,356" stroke="#e4b0b8" stroke-width="4" fill="none" opacity="0.8"/>
<path d="M1606,364 L1611,372" stroke="#c88888" stroke-width="3" fill="none" opacity="0.8"/>
<path d="M1613,374 C1612,386 1616,396 1621,404" stroke="#b4a0dc" stroke-width="5" fill="none" opacity="0.85"/>
<path d="M1587,742 C1584,700 1594,642 1636,638 C1676,636 1690,690 1686,742 Z" fill="url(#hairG)"/>
<ellipse cx="1588" cy="726" rx="5" ry="15" fill="#9a6466"/>
<ellipse cx="1687" cy="723" rx="5" ry="15" fill="#9a6466"/>
<rect x="1306" y="742" width="614" height="120" fill="#05070c"/>
<text x="1368.5" y="800.0" font-size="36.5" fill="#cacaca" font-weight="normal" textLength="258.3" lengthAdjust="spacingAndGlyphs" stroke="#cacaca" stroke-width="0.7">Gopal GopalKrishnan</text>
<text x="1381.4" y="833.8" font-size="27.0" fill="#cacaca" font-weight="normal" textLength="232.5" lengthAdjust="spacingAndGlyphs" stroke="#cacaca" stroke-width="0.7">Capgemini Engineering</text>
<text x="1706.2" y="798.3" font-size="36.5" fill="#cacaca" font-weight="normal" textLength="149.8" lengthAdjust="spacingAndGlyphs" stroke="#cacaca" stroke-width="0.7">Chris Crosby</text>
<text x="1749.5" y="830.6" font-size="25.6" fill="#cacaca" font-weight="normal" textLength="62.3" lengthAdjust="spacingAndGlyphs" stroke="#cacaca" stroke-width="0.7">AVEVA</text>
<text x="49.0" y="54.7" font-size="16.0" fill="#ffffff" font-weight="normal" textLength="31.0" lengthAdjust="spacingAndGlyphs" stroke="#fff" stroke-width="0.5">THE</text>
<line x1="82" y1="48.8" x2="309" y2="48.8" stroke="#dcd4f2" stroke-width="1.8"/>
<circle cx="309.5" cy="48.8" r="2.2" fill="#e8e2f8"/>
<text x="51.2" y="92.6" font-size="38.0" fill="#ffffff" font-weight="bold" textLength="262.0" lengthAdjust="spacingAndGlyphs" stroke="#fff" stroke-width="1.3">RELIABILITY 4.0</text>
<text x="50.3" y="118.0" font-size="19.6" fill="#ffffff" font-weight="normal" textLength="261.0" lengthAdjust="spacingAndGlyphs" >DIGITAL TRANSFORMATION</text>
<line x1="52" y1="136.7" x2="197.5" y2="136.7" stroke="#dcd4f2" stroke-width="1.8"/>
<circle cx="52" cy="136.7" r="2.2" fill="#e8e2f8"/>
<text x="200.8" y="142.5" font-size="15.4" fill="#ffffff" font-weight="normal" textLength="109.2" lengthAdjust="spacingAndGlyphs" >CONFERENCE</text>
<text x="1474.2" y="1044.4" font-size="17.4" fill="#f4f0fa" font-weight="normal" textLength="332.3" lengthAdjust="spacingAndGlyphs" >©2021 Reliabilityweb, Inc. All rights reserved.</text>
<rect x="1817.4" y="1019.2" width="68.2" height="34.4" fill="#150c34"/>
<rect x="1818.6" y="1020.3" width="65.8" height="32.1" fill="#cfc8e6"/>
<rect x="1820.5" y="1022.2" width="30.2" height="14.2" fill="#1f56a0"/>
<rect x="1850.7" y="1022.2" width="31.8" height="14.2" fill="#a6a8ae"/>
<rect x="1820.5" y="1036.4" width="30.2" height="14.1" fill="#a6a8ae"/>
<rect x="1850.7" y="1036.4" width="31.8" height="14.1" fill="#1f56a0"/>
<text x="1823.0" y="1033.2" font-size="9.5" fill="#ffffff" font-weight="bold" textLength="26.0" lengthAdjust="spacingAndGlyphs" >RELIA</text>
<text x="1851.5" y="1033.2" font-size="9.5" fill="#ffffff" font-weight="bold" textLength="29.0" lengthAdjust="spacingAndGlyphs" >BILITY</text>
<text x="1831.0" y="1047.5" font-size="9.5" fill="#ffffff" font-weight="bold" textLength="19.0" lengthAdjust="spacingAndGlyphs" >WEB</text>
<text x="1852.0" y="1047.5" font-size="9.5" fill="#ffffff" font-weight="bold" textLength="28.0" lengthAdjust="spacingAndGlyphs" >.COM</text>
</svg>
</body></html>
